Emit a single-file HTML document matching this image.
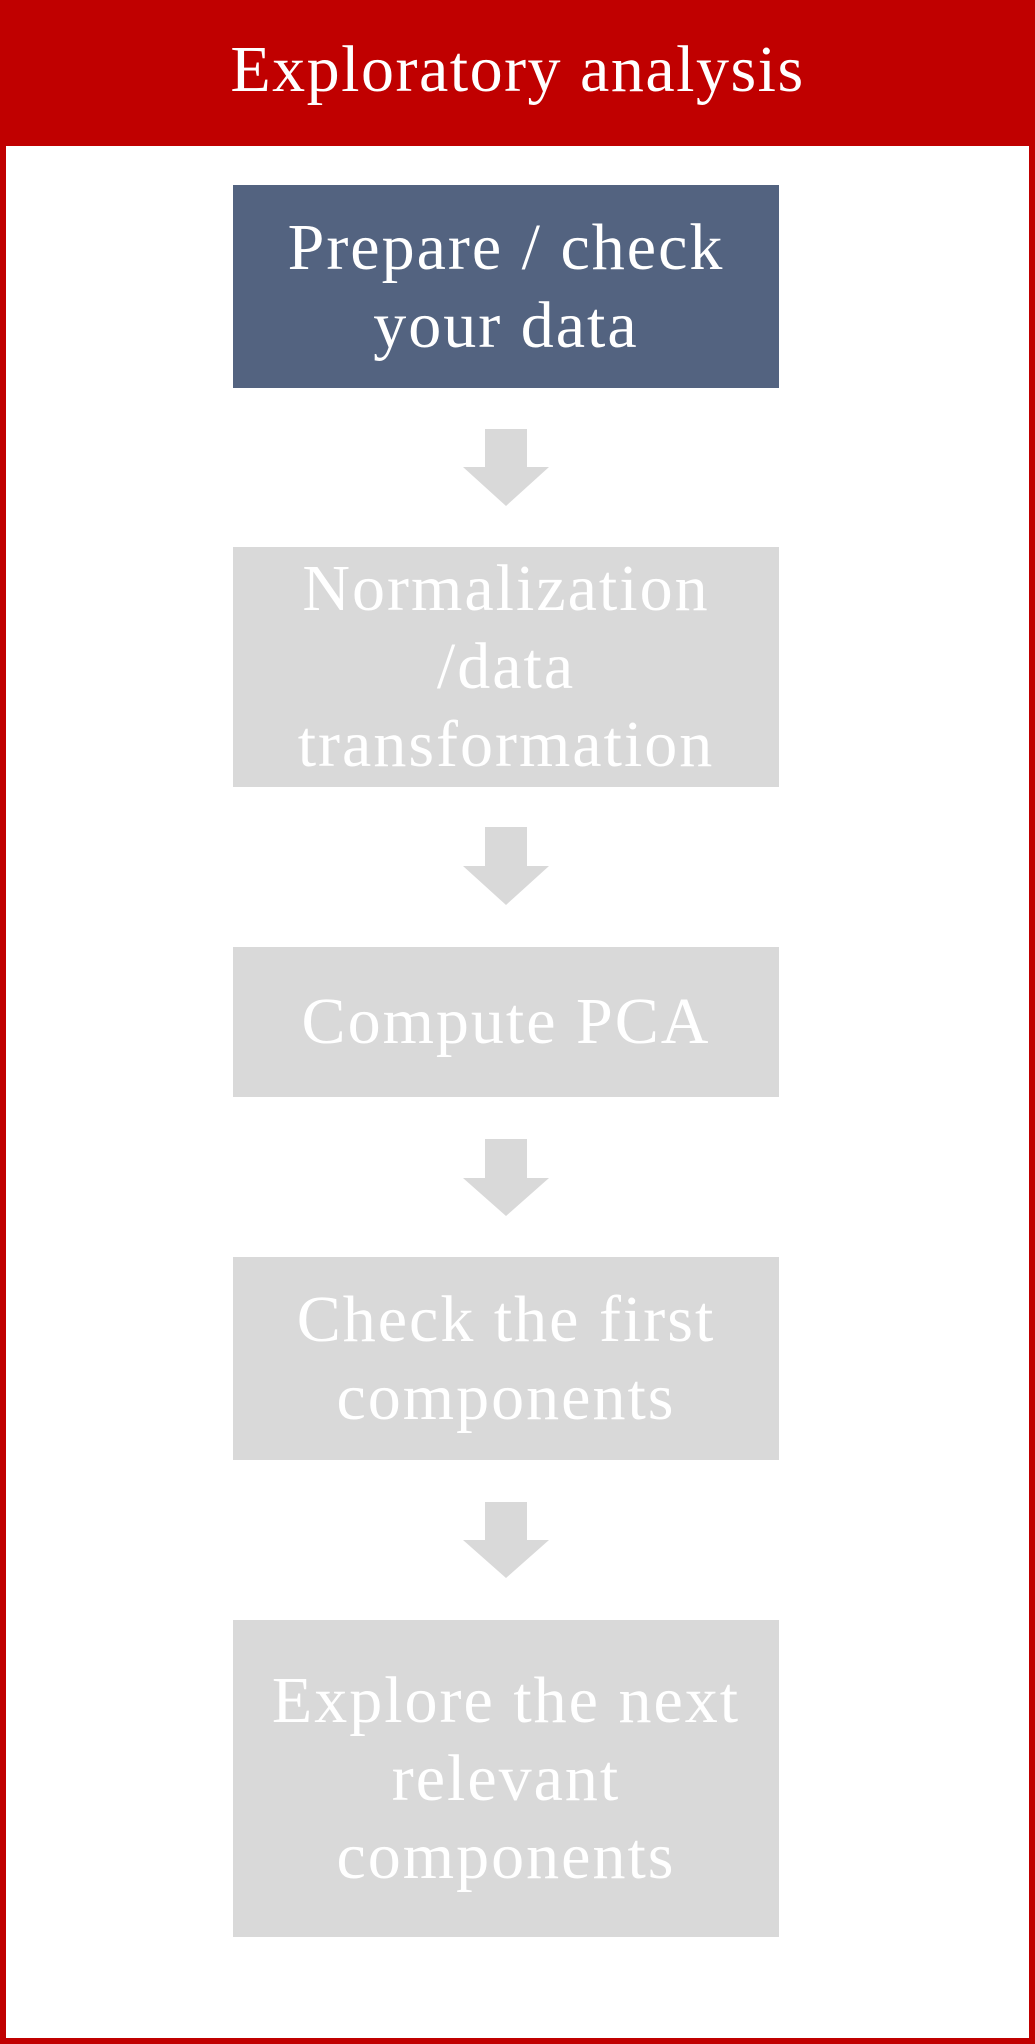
<!DOCTYPE html>
<html><head><style>
html,body{margin:0;padding:0;background:#fff;}
body{width:1035px;height:2044px;position:relative;overflow:hidden;font-family:"Liberation Serif",serif;}
.frame{position:absolute;left:0;top:0;width:1035px;height:2044px;box-sizing:border-box;border:6px solid #c00000;}
.hdr{position:absolute;left:0;top:0;width:1035px;height:146px;background:#c00000;color:#fff;font-size:66px;letter-spacing:1.5px;text-align:center;line-height:140px;}
.box{position:absolute;left:233px;width:546px;background:#d9d9d9;color:#fff;font-size:66px;letter-spacing:2px;line-height:78px;text-align:center;display:flex;align-items:center;justify-content:center;white-space:nowrap;}
.dark{background:#536380;}
svg{position:absolute;left:0;top:0;}
</style></head><body>
<div class="frame"></div>
<div class="hdr">Exploratory analysis</div>
<div class="box dark" style="top:185px;height:203px;">Prepare / check<br>your data</div>
<div class="box" style="top:547px;height:240px;">Normalization<br>/data<br>transformation</div>
<div class="box" style="top:947px;height:150px;">Compute PCA</div>
<div class="box" style="top:1257px;height:203px;">Check the first<br>components</div>
<div class="box" style="top:1620px;height:317px;">Explore the next<br>relevant<br>components</div>
<svg width="1035" height="2044">
<g fill="#d9d9d9">
<polygon points="485,429 527,429 527,467 549,467 506,506 463,467 485,467"/>
<polygon points="485,827 527,827 527,866 549,866 506,905 463,866 485,866"/>
<polygon points="485,1139 527,1139 527,1178 549,1178 506,1216 463,1178 485,1178"/>
<polygon points="485,1502 527,1502 527,1540 549,1540 506,1578 463,1540 485,1540"/>
</g>
</svg>
</body></html>
